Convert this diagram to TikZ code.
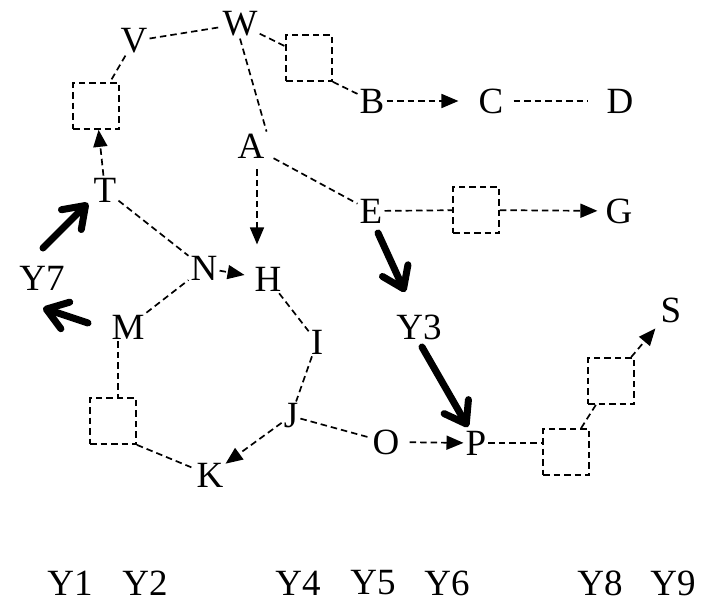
\documentclass[tikz,border=0pt]{standalone}
\usepackage{fontspec}
\setmainfont{Liberation Serif}
\usetikzlibrary{arrows.meta,calc}
\begin{document}
\begin{tikzpicture}[x=1pt,y=-1pt,
  lbl/.style={inner sep=2pt, font=\fontsize{37}{40}\selectfont},
  dl/.style={draw, dash pattern=on 6.5pt off 4pt, line width=1.7pt},
  dbox/.style={dl, minimum size=46pt, inner sep=0pt},
  da/.style={dl, -{Triangle[length=17pt,width=14pt]}},
  thk/.style={line width=7pt, line cap=round, line join=round, -{Straight Barb[round,length=20pt,width=28pt]}}]
\useasboundingbox (0,0) rectangle (704,606);
% labels
\node[lbl] (V) at (134,41) {V};
\node[lbl] (W) at (240,24) {W};
\node[lbl] (A) at (251,146) {A};
\node[lbl] (T) at (105,190) {T};
\node[lbl] (B) at (372,101) {B};
\node[lbl] (C) at (491,101) {C};
\node[lbl] (D) at (620,101) {D};
\node[lbl] (E) at (371,211) {E};
\node[lbl] (G) at (619,211) {G};
\node[lbl] (Y7) at (42,278) {Y7};
\node[lbl] (N) at (204,268) {N};
\node[lbl] (H) at (268,279) {H};
\node[lbl] (M) at (128,327) {M};
\node[lbl] (I) at (317,342) {I};
\node[lbl] (J) at (291,416) {J};
\node[lbl] (K) at (210,475) {K};
\node[lbl] (Y3) at (419,327) {Y3};
\node[lbl] (S) at (671,310) {S};
\node[lbl] (O) at (386,442) {O};
\node[lbl] (P) at (476,443) {P};
% boxes
\node[dbox] (b1) at (96,106) {};
\node[dbox] (b2) at (309,58) {};
\node[dbox] (b6) at (476,210) {};
\node[dbox] (b5) at (113,421) {};
\node[dbox] (b4) at (566,452) {};
\node[dbox] (b3) at (611,381) {};
% bottom row
\node[lbl] (Y1) at (70,583) {Y1};
\node[lbl] (Y2) at (145,583) {Y2};
\node[lbl] (Y4) at (298,583) {Y4};
\node[lbl] (Y5) at (373,583) {Y5};
\node[lbl] (Y6) at (447,583) {Y6};
\node[lbl] (Y8) at (600,583) {Y8};
\node[lbl] (Y9) at (673,583) {Y9};
% dashed connectors
\draw[dl] (V) -- (W);
\draw[dl] (V) -- (b1);
\draw[da] (T) -- (b1);
\draw[dl] (W) -- (b2);
\draw[dl] (b2.south east) -- (B);
\draw[dl] (W.south) -- (A.north east);
\draw[dl, shorten <=8pt] (A) -- (E);
\draw[da] ($(A.south)+(6,9)$) -- ($(A.south)+(6,84)$);
\draw[dl] (T) -- (N);
\draw[da, shorten >=8pt] (N) -- (H);
\draw[dl] (M) -- (N);
\draw[dl] (H) -- (I);
\draw[dl] (I) -- (J);
\draw[da] (J) -- (K);
\draw[dl] (J) -- (O);
\draw[da, shorten <=8pt] (O) -- (P);
\draw[dl] (P) -- (P -| b4.west);
\draw[dl] (b4) -- (b3);
\draw[da, shorten >=5pt] (b3) -- (S);
\draw[dl] ([xshift=-10pt]M.south) -- ([xshift=-10pt]M.south |- b5.north);
\draw[dl] (b5.south east) -- (K);
\draw[da, shorten >=18pt] (B) -- (C);
\draw[dl, shorten <=8pt, shorten >=16pt] (C) -- (D);
\draw[dl] (E) -- (b6);
\draw[da, shorten >=6pt] (b6) -- (G);
% thick arrows
\draw[thk] ($(E)+(7,22)$) -- ($(E)+(34,81)$);
\draw[thk] ($(Y3)+(3,20)$) -- ($(P)+(-8,-16)$);
\draw[thk] ($(Y7)+(1,-30)$) -- ($(T)+(-17,13)$);
\draw[thk] ($(M)+(-40,-4)$) -- ($(Y7)+(1,30)$);
\end{tikzpicture}
\end{document}
